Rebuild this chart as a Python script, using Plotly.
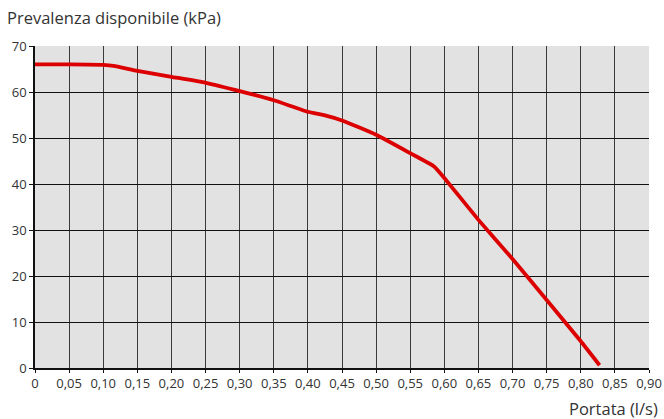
import plotly.graph_objects as go

portata = [0, 0.05, 0.10, 0.115, 0.15, 0.20, 0.25, 0.30, 0.35, 0.40, 0.425, 0.45, 0.50, 0.55, 0.585, 0.60, 0.65, 0.70, 0.75, 0.80, 0.8275]
prevalenza = [66.0, 66.0, 65.9, 65.7, 64.6, 63.3, 62.0, 60.2, 58.2, 55.7, 54.9, 53.8, 50.7, 46.7, 43.8, 41.3, 32.2, 23.7, 14.8, 5.8, 0.6]

x_tick_vals = [round(i * 0.05, 2) for i in range(19)]
x_tick_text = ["0", "0,05", "0,10", "0,15", "0,20", "0,25", "0,30", "0,35", "0,40", "0,45",
               "0,50", "0,55", "0,60", "0,65", "0,70", "0,75", "0,80", "0,85", "0,90"]
y_tick_vals = [0, 10, 20, 30, 40, 50, 60, 70]

FONT = "Open Sans"
TXT = "#333333"

fig = go.Figure()
fig.add_trace(go.Scatter(
    x=portata, y=prevalenza, mode="lines",
    line=dict(color="#dd0000", width=3.8, shape="spline", smoothing=0.4),
    showlegend=False, hoverinfo="skip",
))

fig.update_layout(
    template="none",
    width=664, height=419,
    margin=dict(l=35, r=15, t=46, b=51, autoexpand=False),
    paper_bgcolor="white",
    plot_bgcolor="#e2e2e2",
    font=dict(family=FONT, size=13, color=TXT),
    xaxis=dict(
        range=[0, 0.9], tickvals=x_tick_vals, ticktext=x_tick_text,
        automargin=False,
        showgrid=True, gridcolor="#3a3a3a", gridwidth=1,
        showline=True, linecolor="#111111", linewidth=1.5,
        ticks="outside", ticklen=3, tickcolor="#111111",
        zeroline=False, fixedrange=True,
        tickfont=dict(family=FONT, size=13, color=TXT),
    ),
    yaxis=dict(
        range=[0, 70], tickvals=y_tick_vals,
        automargin=False,
        showgrid=True, gridcolor="#111111", gridwidth=1,
        showline=True, linecolor="#111111", linewidth=1.5,
        ticks="outside", ticklen=4, tickcolor="#111111",
        zeroline=False, fixedrange=True,
        tickfont=dict(family=FONT, size=13, color=TXT),
    ),
    annotations=[
        dict(text="Prevalenza disponibile (kPa)", xref="paper", yref="paper",
             x=-30/614, y=1.0, xanchor="left", yanchor="middle", yshift=29,
             showarrow=False, font=dict(family=FONT, size=16.5, color=TXT)),
        dict(text="Portata (l/s)", xref="paper", yref="paper",
             x=1.0, y=0, xanchor="right", yanchor="middle", xshift=11, yshift=-40,
             showarrow=False, font=dict(family=FONT, size=16.5, color=TXT)),
    ],
)

fig.write_html("out.html", config={"displayModeBar": False},
               post_script="document.body.style.margin='0';document.body.style.overflow='hidden';")
